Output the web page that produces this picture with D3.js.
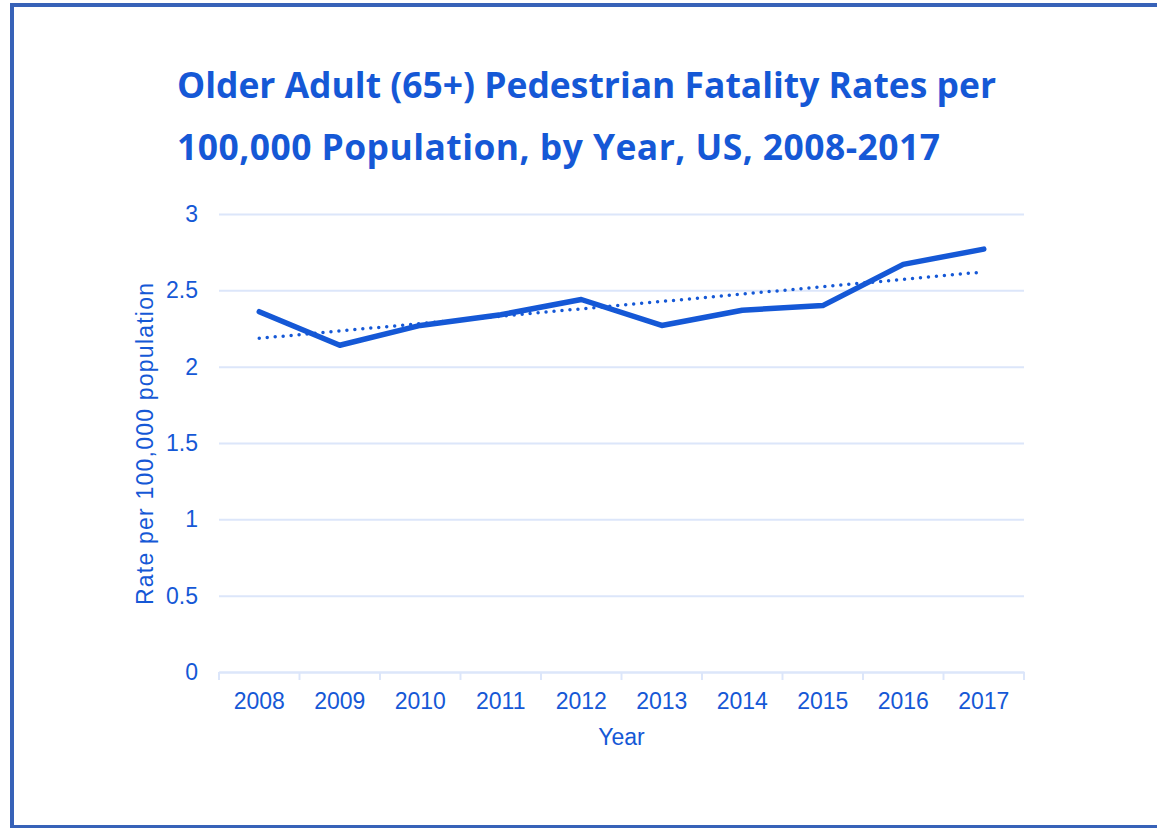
<!DOCTYPE html>
<html>
<head>
<meta charset="utf-8">
<script src="https://cdn.jsdelivr.net/npm/d3@7"></script>
<style>
  html, body { margin: 0; padding: 0; background: #fff; }
  svg { display: block; }
</style>
</head>
<body>
<svg id="chart" width="1157" height="828"></svg>
<script>
const years = ["2008","2009","2010","2011","2012","2013","2014","2015","2016","2017"];
const rates = [2.36, 2.14, 2.27, 2.34, 2.44, 2.27, 2.37, 2.40, 2.67, 2.77];
const yTicks = [0, 0.5, 1, 1.5, 2, 2.5, 3];
const titleLines = ["Older Adult (65+) Pedestrian Fatality Rates per", "100,000 Population, by Year, US, 2008-2017"];
const yTitle = "Rate per 100,000 population";
const xTitle = "Year";

(function () {
const blue = "#1558d6";
const grid = "#dce6fa";
const sans = "'Liberation Sans', Arial, sans-serif";
const titleWidths = [819, 763];

const svg = d3.select("#chart");

// frame
svg.append("rect")
  .attr("x", 12).attr("y", 5).attr("width", 1170).attr("height", 822)
  .attr("fill", "none").attr("stroke", "#3762b8").attr("stroke-width", 4);

// title
const tt = svg.append("g").selectAll("text").data(titleLines).join("text")
  .attr("x", 177).attr("y", (d, i) => 98 + i * 62)
  .attr("fill", blue)
  .style("font-family", "'Open Sans', sans-serif")
  .style("font-weight", "700").style("font-size", "32px")
  .text(d => d);
const w0 = tt.node().getComputedTextLength();
tt.style("font-size", (32 * 819 / w0).toFixed(2) + "px")
  .attr("textLength", (d, i) => titleWidths[i]).attr("lengthAdjust", "spacing");

const mLeft = 219, mRight = 1024, mTop = 214, mBottom = 672;
const x = d3.scaleBand().domain(years).range([mLeft, mRight]);
const y = d3.scaleLinear().domain([0, 3]).range([mBottom, mTop]);

// gridlines
const gy = svg.append("g").attr("transform", `translate(${mLeft},0)`)
  .call(d3.axisLeft(y).tickValues(yTicks).tickSize(-(mRight - mLeft)).tickFormat(d3.format("")).tickPadding(21));
gy.select(".domain").remove();
gy.selectAll(".tick line").attr("stroke", grid).attr("stroke-width", 2);
gy.selectAll(".tick text").attr("fill", blue)
  .style("font-family", sans).style("font-size", "23px");

// x axis
const gx = svg.append("g").attr("transform", `translate(0,${mBottom})`)
  .call(d3.axisBottom(x).tickSize(0).tickPadding(21));
gx.select(".domain").attr("stroke", grid).attr("stroke-width", 2);
gx.selectAll(".tick text").attr("fill", blue)
  .style("font-family", sans).style("font-size", "23px");
// band boundary ticks
const edges = years.map(d => x(d)).concat([x(years[years.length - 1]) + x.bandwidth()]);
svg.append("g").selectAll("line").data(edges).join("line")
  .attr("x1", d => d).attr("x2", d => d)
  .attr("y1", mBottom).attr("y2", mBottom + 8)
  .attr("stroke", grid).attr("stroke-width", 2);

// axis titles
svg.append("text")
  .attr("transform", `translate(153,444) rotate(-90)`)
  .attr("text-anchor", "middle").attr("fill", blue)
  .attr("textLength", 322).attr("lengthAdjust", "spacing")
  .style("font-family", sans).style("font-size", "23px")
  .text(yTitle);
svg.append("text")
  .attr("x", (mLeft + mRight) / 2).attr("y", 745)
  .attr("text-anchor", "middle").attr("fill", blue)
  .style("font-family", sans).style("font-size", "23px")
  .text(xTitle);

// linear trend (least squares over the data)
const n = rates.length;
const idx = d3.range(n);
const mx = d3.mean(idx), my = d3.mean(rates);
const slope = d3.sum(idx, i => (i - mx) * (rates[i] - my)) / d3.sum(idx, i => (i - mx) ** 2);
const intercept = my - slope * mx;
const trend = idx.map(i => intercept + slope * i);

const cx = d => x(d) + x.bandwidth() / 2;
const line = d3.line().x((d, i) => cx(years[i])).y(d => y(d));

svg.append("path").datum(trend)
  .attr("d", line).attr("fill", "none")
  .attr("stroke", blue).attr("stroke-width", 3.5)
  .attr("stroke-linecap", "round").attr("stroke-dasharray", "0 8");

svg.append("path").datum(rates)
  .attr("d", line).attr("fill", "none")
  .attr("stroke", blue).attr("stroke-width", 5.5)
  .attr("stroke-linecap", "round").attr("stroke-linejoin", "round");
})();
</script>
</body>
</html>
